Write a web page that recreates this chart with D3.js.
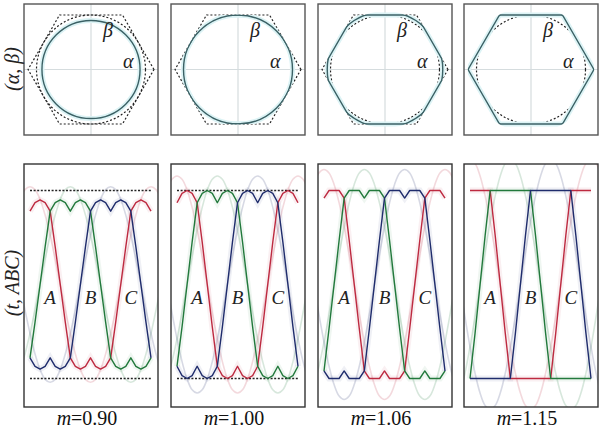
<!DOCTYPE html>
<html>
<head>
<meta charset="utf-8">
<script src="https://cdn.jsdelivr.net/npm/d3@7"></script>
<style>
  body { margin: 0; background: #fff; }
  text { font-family: "Liberation Serif", "Times New Roman", serif; }
</style>
</head>
<body>
<script>
// modulation index of each column
var mValues = [0.90, 1.00, 1.06, 1.15];
var mLabels = ["0.90", "1.00", "1.06", "1.15"];

// phases
var phaseNames = ["A", "B", "C"];
var phaseShift = [0, 120, 240];
var phaseColors = ["#bd2a40", "#22793c", "#1f2c6c"];

// hexagon corners (deg) and vertex distance in m units
var hexVertexAngles = [0, 60, 120, 180, 240, 300];
var hexVertexM = 1.155;

// knot angles of one period (deg)
var angleKnots = [0, 15, 30, 45, 60, 75, 90, 105, 120, 135, 150, 165, 180,
  195, 210, 225, 240, 255, 270, 285, 300, 315, 330, 345, 360];

// phase-A output waves, in units of the dc limit
var wave090 = [0, 0.40, 0.78, 0.87, 0.90, 0.87, 0.78, 0.87, 0.90, 0.87, 0.78, 0.40, 0,
  -0.40, -0.78, -0.87, -0.90, -0.87, -0.78, -0.87, -0.90, -0.87, -0.78, -0.40, 0];
var wave100 = [0, 0.45, 0.87, 0.97, 1.00, 0.97, 0.87, 0.97, 1.00, 0.97, 0.87, 0.45, 0,
  -0.45, -0.87, -0.97, -1.00, -0.97, -0.87, -0.97, -1.00, -0.97, -0.87, -0.45, 0];
var wave106 = [0, 0.47, 0.92, 1.00, 1.00, 1.00, 0.92, 1.00, 1.00, 1.00, 0.92, 0.47, 0,
  -0.47, -0.92, -1.00, -1.00, -1.00, -0.92, -1.00, -1.00, -1.00, -0.92, -0.47, 0];
var wave115 = [0, 0.52, 1.00, 1.00, 1.00, 1.00, 1.00, 1.00, 1.00, 1.00, 1.00, 0.52, 0,
  -0.52, -1.00, -1.00, -1.00, -1.00, -1.00, -1.00, -1.00, -1.00, -1.00, -0.52, 0];
var waves = [wave090, wave100, wave106, wave115];

// faint reference sine: shape and peak per column
var sineShape = [0, 0.26, 0.5, 0.71, 0.87, 0.97, 1, 0.97, 0.87, 0.71, 0.5, 0.26, 0,
  -0.26, -0.5, -0.71, -0.87, -0.97, -1, -0.97, -0.87, -0.71, -0.5, -0.26, 0];
var refPeak = [1.04, 1.155, 1.224, 1.328];

var panelLeft = [24, 171, 318, 464];
var panelW = 134;

var svg = d3.select("body").append("svg")
  .attr("width", 602).attr("height", 430);
var defs = svg.append("defs");

// ---------- top row: (alpha, beta) plane ----------
var topY = 4, topH = 131, cy = 69.5;
var rScale = d3.scaleLinear().domain([0, 1]).range([0, 54.5]);
var hexLine = d3.lineRadial()
  .angle(function(d) { return (90 - d) * Math.PI / 180; })
  .radius(rScale(hexVertexM))
  .curve(d3.curveLinearClosed);

mValues.forEach(function(m, i) {
  var left = panelLeft[i];
  var cx = left + panelW / 2;

  // grid cross
  svg.append("line").attr("x1", left).attr("x2", left + panelW)
    .attr("y1", cy).attr("y2", cy)
    .style("stroke", "#d5dcde").style("stroke-width", 1.2);
  svg.append("line").attr("x1", cx).attr("x2", cx)
    .attr("y1", topY).attr("y2", topY + topH)
    .style("stroke", "#d5dcde").style("stroke-width", 1.2);

  var g = svg.append("g").attr("transform", "translate(" + cx + "," + cy + ")");

  defs.append("clipPath").attr("id", "hexclip" + i)
    .append("path").attr("d", hexLine(hexVertexAngles));
  defs.append("clipPath").attr("id", "circclip" + i)
    .append("circle").attr("r", rScale(m) + 0.6);

  if (m < 1.15) {
    g.append("path").attr("d", hexLine(hexVertexAngles))
      .style("fill", "none").style("stroke", "#222")
      .style("stroke-width", 1.2).style("stroke-dasharray", "2,2");
  }
  if (m !== 1) {
    g.append("circle").attr("r", rScale(1))
      .style("fill", "none").style("stroke", "#222")
      .style("stroke-width", 1.2).style("stroke-dasharray", "2,2");
  }

  // trajectory = circle of radius m, limited by the hexagon
  [["#dcf3f5", 5], ["#3b6165", 1.4]].forEach(function(st) {
    g.append("circle").attr("r", rScale(m))
      .attr("clip-path", "url(#hexclip" + i + ")")
      .style("fill", "none").style("stroke", st[0]).style("stroke-width", st[1]);
    g.append("path").attr("d", hexLine(hexVertexAngles))
      .attr("clip-path", "url(#circclip" + i + ")")
      .style("fill", "none").style("stroke", st[0]).style("stroke-width", st[1]);
  });

  g.append("text").attr("x", 12).attr("y", -33)
    .style("font-style", "italic").style("font-size", "20px").style("fill", "#222")
    .text("\u03B2");
  g.append("text").attr("x", 32).attr("y", -2)
    .style("font-style", "italic").style("font-size", "20px").style("fill", "#222")
    .text("\u03B1");

  svg.append("rect").attr("x", left).attr("y", topY)
    .attr("width", panelW).attr("height", topH)
    .style("fill", "none").style("stroke", "#555").style("stroke-width", 1.4);
});

// ---------- bottom row: phase waves ----------
var botY = 164, botH = 243;
var y = d3.scaleLinear().domain([-1, 1]).range([378.5, 190.5]);

function phasePoints(values, shift, lo, hi) {
  var pts = [];
  [-1, 0, 1].forEach(function(k) {
    for (var j = 0; j < angleKnots.length - 1; j++) {
      var a = angleKnots[j] + shift + 360 * k;
      if (a >= lo && a <= hi) pts.push([a, values[j]]);
    }
  });
  pts.sort(function(p, q) { return p[0] - q[0]; });
  return pts;
}

mValues.forEach(function(m, i) {
  var left = panelLeft[i];
  var x = d3.scaleLinear().domain([90, 450]).range([left + 6, left + 127]);

  defs.append("clipPath").attr("id", "botclip" + i)
    .append("rect").attr("x", left).attr("y", botY)
    .attr("width", panelW).attr("height", botH);
  var g = svg.append("g").attr("clip-path", "url(#botclip" + i + ")");

  var smooth = d3.line()
    .x(function(d) { return x(d[0]); })
    .y(function(d) { return y(d[1]); })
    .curve(d3.curveCatmullRom);
  var straight = d3.line()
    .x(function(d) { return x(d[0]); })
    .y(function(d) { return y(d[1]); });

  var faintVals = sineShape.map(function(v) { return v * refPeak[i]; });

  // faint reference sines
  phaseNames.forEach(function(p, k) {
    g.append("path")
      .attr("d", smooth(phasePoints(faintVals, phaseShift[k], 30, 510)))
      .style("fill", "none").style("stroke", phaseColors[k])
      .style("stroke-opacity", 0.18).style("stroke-width", 1.6);
  });

  // dc limits
  if (m <= 1) {
    [1, -1].forEach(function(v) {
      g.append("line").attr("x1", x(90)).attr("x2", x(450))
        .attr("y1", y(v)).attr("y2", y(v))
        .style("stroke", "#222").style("stroke-width", 1.3)
        .style("stroke-dasharray", "2,1.6");
    });
  }

  // glow then solid waves
  phaseNames.forEach(function(p, k) {
    g.append("path")
      .attr("d", straight(phasePoints(waves[i], phaseShift[k], 90, 450)))
      .style("fill", "none").style("stroke", phaseColors[k])
      .style("stroke-opacity", 0.07).style("stroke-width", 6);
  });
  phaseNames.forEach(function(p, k) {
    g.append("path")
      .attr("d", straight(phasePoints(waves[i], phaseShift[k], 90, 450)))
      .style("fill", "none").style("stroke", phaseColors[k])
      .style("stroke-width", 1.4).style("stroke-linejoin", "round");
  });

  phaseNames.forEach(function(p, k) {
    svg.append("text").attr("x", x(150 + phaseShift[k])).attr("y", 304)
      .attr("text-anchor", "middle")
      .style("font-style", "italic").style("font-size", "19px").style("fill", "#222")
      .text(p);
  });

  svg.append("rect").attr("x", left).attr("y", botY)
    .attr("width", panelW).attr("height", botH)
    .style("fill", "none").style("stroke", "#333").style("stroke-width", 1.4);

  var lab = svg.append("text").attr("x", left + 63).attr("y", 425)
    .attr("text-anchor", "middle").style("font-size", "20px").style("fill", "#111");
  lab.append("tspan").style("font-style", "italic").text("m");
  lab.append("tspan").text("=" + mLabels[i]);
});

// row titles
svg.append("text").attr("transform", "translate(19,69) rotate(-90)")
  .attr("text-anchor", "middle").style("font-size", "20px").style("fill", "#222")
  .style("font-style", "italic").text("(\u03B1, \u03B2)");
svg.append("text").attr("transform", "translate(19,283) rotate(-90)")
  .attr("text-anchor", "middle").style("font-size", "20px").style("fill", "#222")
  .style("font-style", "italic").text("(t, ABC)");
</script>
</body>
</html>
